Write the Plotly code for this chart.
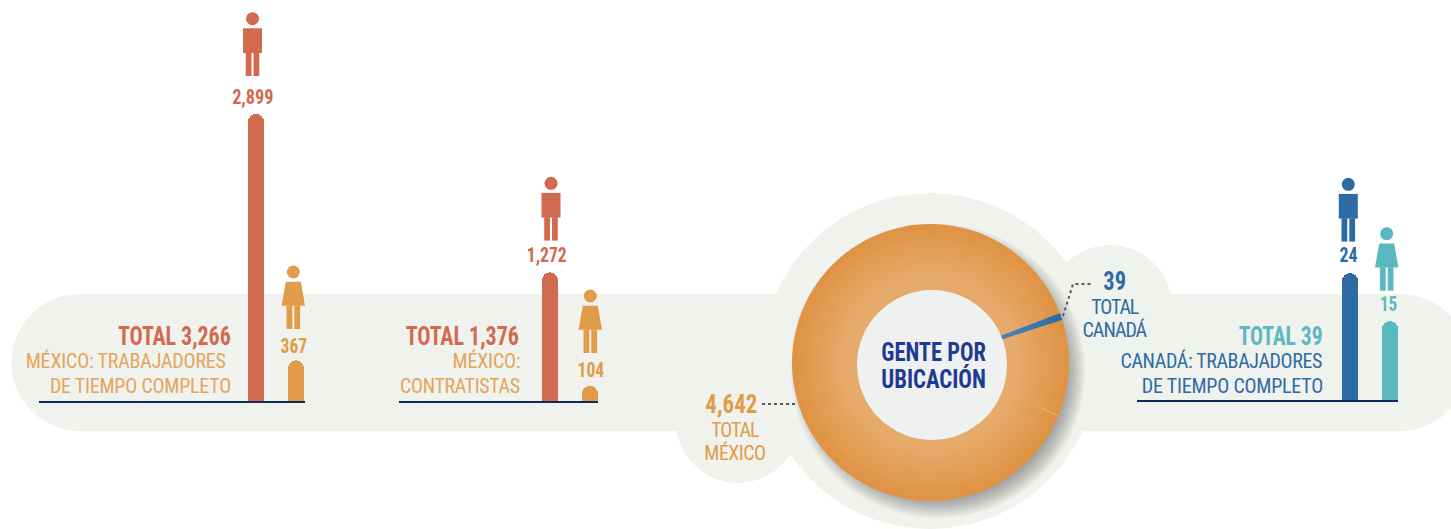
import json
import plotly.graph_objects as go

# ---------- data ----------
mexico_labels = ["Hombres tiempo completo", "Mujeres tiempo completo", "Hombres contratistas", "Mujeres contratistas"]
mexico_values = [2899, 367, 1272, 104]
canada_labels = ["Hombres Canadá", "Mujeres Canadá"]
canada_values = [24, 15]
location_labels = ["Canadá", "México"]
location_values = [39, 4642]
mexico_fulltime_total = 3266
mexico_contractor_total = 1376
canada_total = 39

# ---------- layout constants ----------
W, H = 1451, 529
BASE_Y = 401
MX_SCALE = 0.0973          # px per person, Mexico bars
CA_SCALE = 5.33            # px per person, Canada bars
CAP_STUB = 51              # the foot of the Mexico bars (drawn under the value)
mexico_x = [256, 296, 550, 590]
canada_x = [1350, 1390]

RED = "#d26a50"
ORANGE = "#e29b48"
BLUE = "#2c6ba3"
TEAL = "#5cb8bf"
NAVY = "#0c2a5a"
BG = "#f0f2ee"
LIGHT_ORANGE = "#e6a45c"
FONT = "Roboto Condensed"


def px(x):
    return x / W


def py(y):
    return 1 - y / H


def circle(cx, cy, r, color, layer="above"):
    return dict(type="circle", xref="paper", yref="paper", layer=layer,
                x0=px(cx - r), x1=px(cx + r), y0=py(cy + r), y1=py(cy - r),
                fillcolor=color, line=dict(width=0))


def rect(x0, y0, x1, y1, color, layer="above"):
    return dict(type="rect", xref="paper", yref="paper", layer=layer,
                x0=px(x0), x1=px(x1), y0=py(y1), y1=py(y0),
                fillcolor=color, line=dict(width=0))


def poly(points, color, layer="above"):
    d = "M" + " L".join(f"{px(x):.5f},{py(y):.5f}" for x, y in points) + " Z"
    return dict(type="path", xref="paper", yref="paper", layer=layer, path=d,
                fillcolor=color, line=dict(width=0))


def man(cx, cy, color):
    return [
        circle(cx, cy, 6.5, color),
        rect(cx - 9.5, cy + 9.6, cx + 9.5, cy + 34.3, color),
        rect(cx - 6.8, cy + 34, cx - 1, cy + 57.3, color),
        rect(cx + 1, cy + 34, cx + 6.8, cy + 57.3, color),
    ]


def woman(cx, cy, color):
    return [
        circle(cx, cy, 6.5, color),
        poly([(cx - 7.5, cy + 9.7), (cx + 7.5, cy + 9.7), (cx + 11.7, cy + 33.7), (cx - 11.7, cy + 33.7)], color),
        rect(cx - 6.8, cy + 33.5, cx - 1, cy + 57, color),
        rect(cx + 1, cy + 33.5, cx + 6.8, cy + 57, color),
    ]


shapes = []
# backdrop: pills and circles
pill_r = 68
shapes += [
    rect(12 + pill_r, 294, 1400, 431, BG, "below"),
    circle(12 + pill_r, 362.5, 68.5, BG, "below"),
    circle(1400, 362.5, 68.5, BG, "below"),
    circle(930, 361, 168, BG, "below"),
    circle(738, 421, 62, BG, "below"),
    circle(1110, 307, 62, BG, "below"),
]
# donut shadow: soft, towards the lower right
for r in range(147, 125, -2):
    shapes.append(circle(938, 371, r, "rgba(50,55,60,0.05)", "below"))

# inner disc
shapes.append(circle(932, 365, 75, "#eff1f1"))
# faint seam on the ring
shapes.append(dict(type="line", xref="paper", yref="paper", layer="above",
                   x0=px(1042), x1=px(1058), y0=py(408), y1=py(416),
                   line=dict(color="rgba(255,235,205,0.4)", width=1)))

# baselines
for x0, x1, y0 in [(39, 305, 401), (399, 598, 401), (1137, 1398, 400)]:
    shapes.append(rect(x0, y0, x1, y0 + 2, NAVY))

# leaders
leader = dict(color="#55595c", width=2, dash="dot")
shapes.append(dict(type="line", xref="paper", yref="paper", layer="above",
                   x0=px(762), x1=px(796), y0=py(404), y1=py(404), line=leader))
shapes.append(dict(type="path", xref="paper", yref="paper", layer="above",
                   path=f"M{px(1063):.5f},{py(316):.5f} L{px(1073):.5f},{py(284):.5f} L{px(1093):.5f},{py(284):.5f}",
                   line=leader))

# people
shapes += man(252.5, 18.7, RED) + woman(293.3, 272, ORANGE)
shapes += man(551, 183.3, RED) + woman(590.3, 296, ORANGE)
shapes += man(1348.3, 184.3, BLUE) + woman(1386.7, 233.7, TEAL)

# ---------- bars ----------
fig = go.Figure()
mexico_colors = [RED, ORANGE, RED, ORANGE]
fig.add_trace(go.Bar(x=mexico_x, y=[CAP_STUB] * 4, width=16, yaxis="y",
                     marker=dict(color=mexico_colors, line=dict(width=0)),
                     hoverinfo="skip", showlegend=False))
fig.add_trace(go.Bar(x=mexico_x, y=mexico_values, width=16, yaxis="y",
                     customdata=mexico_labels, name="México",
                     marker=dict(color=mexico_colors, cornerradius=8, line=dict(width=0)),
                     showlegend=False))
fig.add_trace(go.Bar(x=canada_x, y=canada_values, width=16, yaxis="y2",
                     customdata=canada_labels, name="Canadá",
                     marker=dict(color=[BLUE, TEAL], cornerradius=8, line=dict(width=0)),
                     showlegend=False))

# ---------- donut: nested rings give the radial shading ----------
CX, CY, R_OUT, R_HOLE = 930.5, 362.5, 138.5, 72
outer_rgb, inner_rgb = (223, 147, 68), (230, 170, 107)
blue_rgb_outer, blue_rgb_inner = (44, 107, 163), (70, 130, 185)
steps = 14
for i in range(steps):
    t = i / (steps - 1)
    r = R_OUT - t * (R_OUT - 76)
    s = min(1.0, t * 1.25)
    c = tuple(round(a + (b - a) * s) for a, b in zip(outer_rgb, inner_rgb))
    b = tuple(round(a + (q - a) * s) for a, q in zip(blue_rgb_outer, blue_rgb_inner))
    fig.add_trace(go.Pie(
        labels=location_labels, values=location_values, sort=False, direction="clockwise",
        rotation=69.1, hole=R_HOLE / r, textinfo="none", showlegend=False,
        domain=dict(x=[px(CX - r), px(CX + r)], y=[py(CY + r), py(CY - r)]),
        marker=dict(colors=[f"rgb{b}", f"rgb{c}"], line=dict(width=0)),
    ))

# ---------- text: (text, left px, right px, middle y px, colour, size, bold) ----------
REG = 20
notes = [
    (f"TOTAL {mexico_fulltime_total:,}", 118, 230.7, 336.6, RED, 25, True),
    ("MÉXICO: TRABAJADORES", 25.7, 226, 361, LIGHT_ORANGE, REG, False),
    ("DE TIEMPO COMPLETO", 50, 231.3, 385.5, LIGHT_ORANGE, REG, False),
    (f"{mexico_values[0]:,}", 232.7, 274, 97.5, RED, 21, True),
    (f"{mexico_values[1]:,}", 281, 307.7, 346, ORANGE, 21, True),
    (f"TOTAL {mexico_contractor_total:,}", 406, 519.3, 336.7, RED, 25, True),
    ("MÉXICO:", 452, 520, 361, LIGHT_ORANGE, REG, False),
    ("CONTRATISTAS", 400, 520, 386, LIGHT_ORANGE, REG, False),
    (f"{mexico_values[2]:,}", 526.7, 566.7, 255, RED, 21, True),
    (f"{mexico_values[3]:,}", 577.3, 604, 370, ORANGE, 21, True),
    (f"TOTAL {canada_total}", 1238.3, 1322.3, 336.7, TEAL, 25, True),
    ("CANADÁ: TRABAJADORES", 1120.7, 1322.7, 361, BLUE, REG, False),
    ("DE TIEMPO COMPLETO", 1141.3, 1322.7, 386, BLUE, REG, False),
    (f"{canada_values[0]}", 1339, 1357, 255, BLUE, 21, True),
    (f"{canada_values[1]}", 1380, 1397.3, 304, TEAL, 21, True),
    (f"{location_values[0]}", 1103.3, 1126, 281, BLUE, 25, True),
    ("TOTAL", 1091, 1139, 307, BLUE, REG, False),
    ("CANADÁ", 1082.7, 1147.3, 330, BLUE, REG, False),
    (f"{location_values[1]:,}", 705.7, 757.7, 404, ORANGE, 25, True),
    ("TOTAL", 711, 759.3, 429.5, ORANGE, REG, False),
    ("MÉXICO", 704.3, 766, 453, ORANGE, REG, False),
    ("GENTE POR<br>UBICACIÓN", 881.3, 986, 369, "#1f3a93", 26, True),
]

annotations = [
    dict(text=t, x=px((l + r) / 2), y=py(y), xref="paper", yref="paper", showarrow=False,
         xanchor="center", yanchor="middle", borderpad=0,
         font=dict(family=FONT, size=size, color=color, weight=700 if bold else 400))
    for t, l, r, y, color, size, bold in notes
]
fit = [[round(r - l, 1), bool(bold)] for _, l, r, _, _, _, bold in notes]

hidden = dict(visible=False, fixedrange=True, showgrid=False, zeroline=False)
baseline_frac = py(BASE_Y)
fig.update_layout(
    width=W, height=H, margin=dict(l=0, r=0, t=0, b=0), autosize=False,
    paper_bgcolor="white", plot_bgcolor="rgba(0,0,0,0)",
    barmode="stack", showlegend=False,
    shapes=shapes, annotations=annotations,
    xaxis=dict(range=[0, W], domain=[0, 1], **hidden),
    yaxis=dict(range=[0, BASE_Y / MX_SCALE], domain=[baseline_frac, 1], **hidden),
    yaxis2=dict(range=[0, BASE_Y / CA_SCALE], domain=[baseline_frac, 1], overlaying="y", **hidden),
)

post = """
document.body.style.margin='0';
document.documentElement.style.overflow='hidden';
var fit = %s;
document.querySelectorAll('.annotation-text').forEach(function(t, i){
  var lines = t.querySelectorAll('tspan.line');
  var mode = fit[i][1] ? 'spacingAndGlyphs' : 'spacing';
  if (lines.length > 1) {
    lines[1].setAttribute('dy', '27px');
    lines.forEach(function(l){ l.setAttribute('textLength', fit[i][0]); l.setAttribute('lengthAdjust', mode); });
  } else {
    t.setAttribute('textLength', fit[i][0]);
    t.setAttribute('lengthAdjust', mode);
  }
});
""" % json.dumps(fit)
fig.write_html("out.html", config=dict(displayModeBar=False), post_script=post)
